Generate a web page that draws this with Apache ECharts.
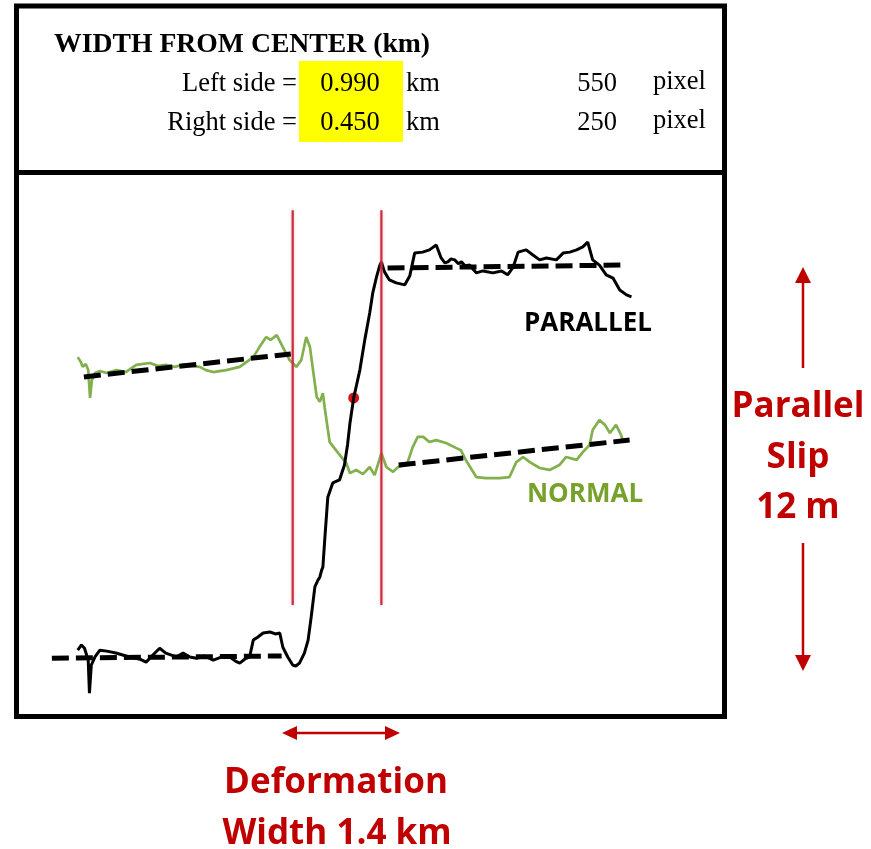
<!DOCTYPE html>
<html>
<head>
<meta charset="utf-8">
<script src="https://cdn.jsdelivr.net/npm/echarts@6/dist/echarts.min.js"></script>
<style>html,body{margin:0;padding:0;background:#fff}#c{width:871px;height:849px}</style>
</head>
<body>
<div id="c"></div>
<script>
// distance from fault centre (km) and displacement (m)
const parallelKm = [-4.48,-4.42,-4.37,-4.31,-4.29,-4.26,-4.20,-4.12,-4.01,-3.86,-3.64,-3.47,-3.37,-3.26,-3.15,-3.05,-2.88,-2.77,-2.66,-2.55,-2.42,-2.28,-2.14,-2.01,-1.92,-1.85,-1.77,-1.69,-1.63,-1.56,-1.47,-1.36,-1.27,-1.20,-1.15,-1.07,-0.99,-0.94,-0.88,-0.80,-0.74,-0.69,-0.63,-0.58,-0.55,-0.52,-0.50,-0.47,-0.42,-0.34,-0.23,-0.15,-0.10,-0.06,0.00,0.10,0.18,0.26,0.31,0.37,0.42,0.45,0.50,0.58,0.69,0.83,0.91,0.99,1.12,1.23,1.34,1.42,1.48,1.53,1.58,1.64,1.70,1.75,1.81,1.88,1.99,2.10,2.26,2.40,2.50,2.59,2.67,2.80,2.91,3.02,3.13,3.29,3.40,3.51,3.62,3.72,3.80,3.88,3.99,4.10,4.21,4.32,4.43,4.51];
const parallelM = [0.23,0.39,0.29,-0.08,-1.10,-0.23,0.02,0.23,0.20,0.14,0.02,-0.05,-0.14,0.08,0.29,0.14,0.02,0.14,0.02,-0.02,0.05,-0.08,0.02,0.02,-0.11,-0.17,-0.05,0.02,0.54,0.63,0.76,0.79,0.73,0.76,0.32,0.02,-0.23,-0.26,-0.17,0.14,0.54,1.25,2.18,2.39,2.48,2.70,2.79,3.63,4.95,5.39,5.48,5.94,6.56,7.24,8.01,8.87,9.80,10.63,11.25,11.74,12.08,12.21,11.90,11.65,11.56,11.50,11.77,12.48,12.51,12.58,12.73,12.33,12.18,12.21,12.30,12.27,12.15,12.21,12.08,12.11,11.87,11.93,11.87,11.93,11.81,12.05,12.51,12.58,12.42,12.27,12.33,12.27,12.48,12.51,12.58,12.67,12.82,12.27,12.11,11.81,11.71,11.34,11.19,11.13];
const normalKm = [-4.48,-4.43,-4.40,-4.35,-4.31,-4.28,-4.25,-4.20,-4.12,-4.01,-3.85,-3.70,-3.53,-3.31,-3.18,-3.05,-2.91,-2.77,-2.50,-2.40,-2.28,-2.18,-2.07,-1.85,-1.63,-1.53,-1.42,-1.35,-1.25,-1.15,-1.04,-0.93,-0.85,-0.77,-0.71,-0.66,-0.60,-0.55,-0.50,-0.47,-0.39,-0.25,-0.12,-0.06,0.04,0.15,0.26,0.34,0.45,0.53,0.64,0.72,0.86,0.96,1.04,1.13,1.23,1.34,1.50,1.66,1.74,1.82,1.99,2.15,2.37,2.53,2.64,2.75,2.86,3.02,3.18,3.34,3.45,3.62,3.72,3.83,3.88,3.99,4.08,4.16,4.26,4.34,4.37];
const normalM = [9.27,9.12,8.97,9.06,8.87,8.01,8.56,8.78,8.84,8.78,8.87,8.81,9.03,9.09,9.00,9.03,8.97,9.03,8.97,8.87,8.81,8.84,8.87,8.97,9.27,9.58,9.89,9.80,9.95,9.58,9.18,8.97,9.18,9.89,9.58,8.87,8.04,7.89,8.16,7.70,6.65,6.31,6.00,5.69,5.79,5.66,5.88,5.63,6.31,5.88,5.73,5.88,5.94,6.50,6.81,6.81,6.65,6.71,6.62,6.47,6.40,6.10,5.57,5.54,5.54,5.57,6.03,6.19,6.03,5.85,5.79,5.94,6.19,6.10,6.34,6.56,7.02,7.33,7.18,6.93,7.18,6.87,6.71];
// linear fits (start km, start m, end km, end m)
const fitParallelLeft  = [[-4.90,-0.02],[-1.17,0.05]];
const fitParallelRight = [[0.55,12.02],[4.33,12.11]];
const fitNormalLeft    = [[-4.38,8.66],[-1.02,9.37]];
const fitNormalRight   = [[0.73,5.94],[4.48,6.71]];
// deformation zone limits (km) and vertical extent (m)
const leftSideKm = -0.99;
const rightSideKm = 0.45;
const zoneTopM = 13.8;
const zoneBottomM = 1.62;
const faultCentre = [0.00, 8.01];

const zip = (xs, ys) => xs.map((x, i) => [x, ys[i]]);
const chart = echarts.init(document.getElementById('c'));
const red = '#c00000';
const dashed = (data) => ({
  type: 'line', data, symbol: 'none', silent: true,
  lineStyle: { color: '#000', width: 5, type: [17, 7], cap: 'butt' }
});
const sans = '"Open Sans", "Noto Sans", sans-serif';
const serif = '"Liberation Serif", "Times New Roman", serif';

chart.setOption({
  animation: false,
  backgroundColor: '#fff',
  grid: { left: 18, right: 149, top: 174, bottom: 135 },
  xAxis: { type: 'value', min: -5.45, max: 5.98, show: false },
  yAxis: { type: 'value', min: -1.74, max: 14.92, show: false },
  series: [
    { type: 'line', data: zip(normalKm, normalM), symbol: 'none',
      lineStyle: { color: '#82b04c', width: 2.7 } },
    { type: 'line', data: zip(parallelKm, parallelM), symbol: 'none',
      lineStyle: { color: '#000', width: 3 } },
    dashed(fitParallelLeft), dashed(fitParallelRight),
    dashed(fitNormalLeft), dashed(fitNormalRight),
    { type: 'line', data: [[leftSideKm, zoneTopM], [leftSideKm, zoneBottomM]], symbol: 'none',
      lineStyle: { color: '#cc2b3b', width: 2.2, shadowColor: 'rgba(230,120,130,0.5)', shadowBlur: 3 } },
    { type: 'line', data: [[rightSideKm, zoneTopM], [rightSideKm, zoneBottomM]], symbol: 'none',
      lineStyle: { color: '#cc2b3b', width: 2.2, shadowColor: 'rgba(230,120,130,0.5)', shadowBlur: 3 } },
    { type: 'scatter', data: [faultCentre], symbolSize: 11, itemStyle: { color: '#d4131c', opacity: 1 } }
  ],
  graphic: [
    { type: 'rect', shape: { x: 299, y: 61, width: 104, height: 81 }, style: { fill: '#ffff00' }, z: 1 },
    { type: 'rect', shape: { x: 16.5, y: 6, width: 708, height: 710.5 }, style: { fill: 'none', stroke: '#000', lineWidth: 5 }, z: 10 },
    { type: 'line', shape: { x1: 16.5, y1: 172.5, x2: 724.5, y2: 172.5 }, style: { stroke: '#000', lineWidth: 5 }, z: 10 },
    { type: 'text', x: 54, y: 45, style: { text: 'WIDTH FROM CENTER (km)', font: 'bold 27.7px ' + serif, fill: '#000', textVerticalAlign: 'middle' }, z: 10 },
    { type: 'text', x: 297, y: 84, style: { text: 'Left side =', font: '26.5px ' + serif, fill: '#000', textAlign: 'right', textVerticalAlign: 'middle' }, z: 10 },
    { type: 'text', x: 297, y: 123, style: { text: 'Right side =', font: '26.5px ' + serif, fill: '#000', textAlign: 'right', textVerticalAlign: 'middle' }, z: 10 },
    { type: 'text', x: 350, y: 84, style: { text: '0.990', font: '26.5px ' + serif, fill: '#000', textAlign: 'center', textVerticalAlign: 'middle' }, z: 10 },
    { type: 'text', x: 350, y: 123, style: { text: '0.450', font: '26.5px ' + serif, fill: '#000', textAlign: 'center', textVerticalAlign: 'middle' }, z: 10 },
    { type: 'text', x: 406, y: 84, style: { text: 'km', font: '26.5px ' + serif, fill: '#000', textVerticalAlign: 'middle' }, z: 10 },
    { type: 'text', x: 406, y: 123, style: { text: 'km', font: '26.5px ' + serif, fill: '#000', textVerticalAlign: 'middle' }, z: 10 },
    { type: 'text', x: 617, y: 84, style: { text: '550', font: '26.5px ' + serif, fill: '#000', textAlign: 'right', textVerticalAlign: 'middle' }, z: 10 },
    { type: 'text', x: 617, y: 123, style: { text: '250', font: '26.5px ' + serif, fill: '#000', textAlign: 'right', textVerticalAlign: 'middle' }, z: 10 },
    { type: 'text', x: 653, y: 82, style: { text: 'pixel', font: '26.5px ' + serif, fill: '#000', textVerticalAlign: 'middle' }, z: 10 },
    { type: 'text', x: 653, y: 121, style: { text: 'pixel', font: '26.5px ' + serif, fill: '#000', textVerticalAlign: 'middle' }, z: 10 },
    { type: 'text', x: 588, y: 324, style: { text: 'PARALLEL', font: 'bold 26px ' + sans, fill: '#000', textAlign: 'center', textVerticalAlign: 'middle' }, z: 10 },
    { type: 'text', x: 585, y: 495, style: { text: 'NORMAL', font: 'bold 26px ' + sans, fill: '#76a22b', textAlign: 'center', textVerticalAlign: 'middle' }, z: 10 },
    { type: 'text', x: 798, y: 407, style: { text: 'Parallel', font: 'bold 35px ' + sans, fill: red, textAlign: 'center', textVerticalAlign: 'middle' }, z: 10 },
    { type: 'text', x: 798, y: 458, style: { text: 'Slip', font: 'bold 35px ' + sans, fill: red, textAlign: 'center', textVerticalAlign: 'middle' }, z: 10 },
    { type: 'text', x: 798, y: 508, style: { text: '12 m', font: 'bold 35px ' + sans, fill: red, textAlign: 'center', textVerticalAlign: 'middle' }, z: 10 },
    { type: 'text', x: 336, y: 783, style: { text: 'Deformation', font: 'bold 35px ' + sans, fill: red, textAlign: 'center', textVerticalAlign: 'middle' }, z: 10 },
    { type: 'text', x: 337, y: 834, style: { text: 'Width 1.4 km', font: 'bold 35px ' + sans, fill: red, textAlign: 'center', textVerticalAlign: 'middle' }, z: 10 },
    // vertical arrows
    { type: 'line', shape: { x1: 803, y1: 280, x2: 803, y2: 368 }, style: { stroke: red, lineWidth: 2.5 }, z: 10 },
    { type: 'polygon', shape: { points: [[803, 267], [795, 283], [811, 283]] }, style: { fill: red }, z: 10 },
    { type: 'line', shape: { x1: 803, y1: 543, x2: 803, y2: 657 }, style: { stroke: red, lineWidth: 2.5 }, z: 10 },
    { type: 'polygon', shape: { points: [[803, 671], [795, 655], [811, 655]] }, style: { fill: red }, z: 10 },
    // horizontal arrow
    { type: 'line', shape: { x1: 295, y1: 733, x2: 387, y2: 733 }, style: { stroke: red, lineWidth: 2.5 }, z: 10 },
    { type: 'polygon', shape: { points: [[282, 733], [297, 726], [297, 740]] }, style: { fill: red }, z: 10 },
    { type: 'polygon', shape: { points: [[400, 733], [385, 726], [385, 740]] }, style: { fill: red }, z: 10 }
  ]
});
</script>
</body>
</html>
